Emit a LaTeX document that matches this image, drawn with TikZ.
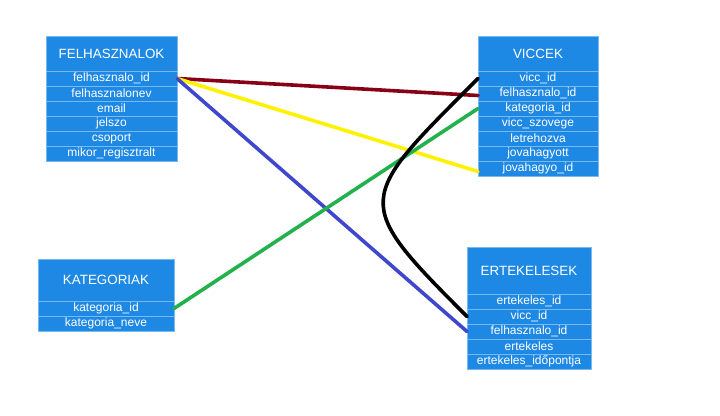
\documentclass[tikz,border=0pt]{standalone}
\usepackage{fontspec}
\setmainfont{Liberation Sans}
\definecolor{tblue}{RGB}{30,136,229}
\definecolor{tline}{RGB}{120,185,240}
\definecolor{cred}{RGB}{136,0,21}
\definecolor{cyellow}{RGB}{255,242,0}
\definecolor{cblue}{RGB}{63,72,204}
\definecolor{cgreen}{RGB}{34,177,76}
\tikzset{
  hdr/.style={fill=tblue, draw=tline, line width=0.8pt, text=white, font=\fontsize{13.4}{14}\selectfont, anchor=north west, inner sep=0pt, outer sep=0pt},
  rowbox/.style={fill=tblue, draw=tline, line width=0.8pt, text=white, font=\fontsize{12}{12}\selectfont, anchor=north west, minimum height=15pt, inner sep=0pt, outer sep=0pt},
  link/.style={line width=3.6pt, line cap=round},
}
\begin{document}
\begin{tikzpicture}[x=1pt,y=-1pt]
\useasboundingbox (0,0) rectangle (720,415);
% FELHASZNALOK
\begin{scope}[every node/.append style={minimum width=131pt}]
\node[hdr, minimum height=35pt] (fh) at (46,36) {FELHASZNALOK};
\node[rowbox] (f1) at (46,71) {felhasznalo\_id};
\node[rowbox] (f2) at (46,86) {felhasznalonev};
\node[rowbox] (f3) at (46,101) {email};
\node[rowbox] (f4) at (46,116) {jelszo};
\node[rowbox] (f5) at (46,131) {csoport};
\node[rowbox] (f6) at (46,146) {mikor\_regisztralt};
\end{scope}
% VICCEK
\begin{scope}[every node/.append style={minimum width=120pt}]
\node[hdr, minimum height=35pt] (vh) at (478,36) {VICCEK};
\node[rowbox] (v1) at (478,71) {vicc\_id};
\node[rowbox] (v2) at (478,86) {felhasznalo\_id};
\node[rowbox] (v3) at (478,101) {kategoria\_id};
\node[rowbox] (v4) at (478,116) {vicc\_szovege};
\node[rowbox] (v5) at (478,131) {letrehozva};
\node[rowbox] (v6) at (478,146) {jovahagyott};
\node[rowbox] (v7) at (478,161) {jovahagyo\_id};
\end{scope}
% KATEGORIAK
\begin{scope}[every node/.append style={minimum width=136pt}]
\node[hdr, minimum height=42pt] (kh) at (38,259) {KATEGORIAK};
\node[rowbox] (k1) at (38,301) {kategoria\_id};
\node[rowbox] (k2) at (38,316) {kategoria\_neve};
\end{scope}
% ERTEKELESEK
\begin{scope}[every node/.append style={minimum width=124pt}]
\node[hdr, minimum height=47pt] (eh) at (467,247) {ERTEKELESEK};
\node[rowbox] (e1) at (467,294) {ertekeles\_id};
\node[rowbox] (e2) at (467,309) {vicc\_id};
\node[rowbox] (e3) at (467,324) {felhasznalo\_id};
\node[rowbox] (e4) at (467,339) {ertekeles};
\node[rowbox] (e5) at (467,354) {ertekeles\_időpontja};
\end{scope}
% connectors
\draw[link, cred] (f1.east) -- ([yshift=-2pt]v2.west);
\draw[link, cyellow] (f1.east) -- ([yshift=-3pt]v7.west);
\draw[link, cblue] (f1.east) -- (e3.west);
\draw[link, cgreen] (k1.east) -- (v3.west);
\draw[link, black] (v1.west) .. controls +(-122,122) and +(-116,-116) .. (e2.west);
\end{tikzpicture}
\end{document}
